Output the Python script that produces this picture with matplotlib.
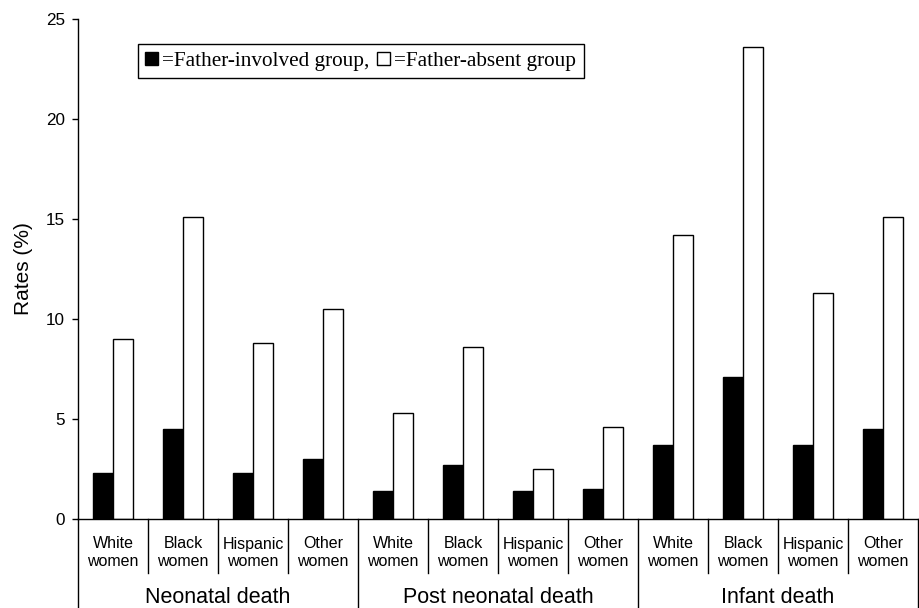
## Father involvement and infant mortality bar chart
import matplotlib
matplotlib.use("Agg")
import matplotlib.pyplot as plt
from matplotlib.patches import Rectangle
import numpy as np

plt.rcParams['font.family'] = ['Liberation Sans', 'DejaVu Sans']

# Data
categories = ["Neonatal death", "Post neonatal death", "Infant death"]
subgroups = ["White\nwomen", "Black\nwomen", "Hispanic\nwomen", "Other\nwomen"]
involved = [2.3, 4.5, 2.3, 3.0,
            1.4, 2.7, 1.4, 1.5,
            3.7, 7.1, 3.7, 4.5]
absent = [9.0, 15.1, 8.8, 10.5,
          5.3, 8.6, 2.5, 4.6,
          14.2, 23.6, 11.3, 15.1]

n = len(involved)
x = np.arange(n)
w = 0.286

fig = plt.figure(figsize=(9.2, 6.08), dpi=100)
ax = fig.add_axes([78/920, 1 - 518.7/608, 840/920, 500/608])

ax.bar(x - w/2, involved, w, color='black', edgecolor='black', linewidth=1.0)
ax.bar(x + w/2, absent, w, color='white', edgecolor='black', linewidth=1.0)

ax.set_xlim(-0.5, n - 0.5)
ax.set_ylim(0, 25)
ax.set_yticks([0, 5, 10, 15, 20, 25])
ax.tick_params(axis='y', direction='out', length=4.5, width=1.0, labelsize=12.3, pad=5)
ax.set_xticks([])
ax.spines['top'].set_visible(False)
ax.spines['right'].set_visible(False)
for s in ['left', 'bottom']:
    ax.spines[s].set_linewidth(1.0)
ax.set_ylabel("Rates (%)", fontsize=15, labelpad=9)

# separators and labels under the axis
trans = ax.get_xaxis_transform()
per = len(subgroups)
for k in range(n + 1):
    xb = k - 0.5
    low = -0.1786 if k % per == 0 else -0.108
    ax.plot([xb, xb], [0, low], color='black', lw=1.0, transform=trans, clip_on=False)
for i in range(n):
    ax.text(i, -0.068, subgroups[i % per], transform=trans, ha='center', va='center',
            fontsize=11.5, linespacing=1.2)
for j, c in enumerate(categories):
    ax.text(j * per + (per - 1) / 2, -0.1686, c, transform=trans, ha='center',
            va='baseline', fontsize=15.5)

# legend
handles = [Rectangle((0, 0), 1, 1, facecolor='black', edgecolor='black', lw=1.0),
           Rectangle((0, 0), 1, 1, facecolor='white', edgecolor='black', lw=1.0)]
leg = ax.legend(handles, ["=Father-involved group,", "=Father-absent group"],
                ncol=2, loc='upper left', bbox_to_anchor=(0.0714, 0.949),
                prop={'family': 'Liberation Serif', 'size': 15.3},
                frameon=True, fancybox=False, edgecolor='black', framealpha=1,
                handlelength=0.6, handleheight=0.6, handletextpad=0.2,
                columnspacing=0.35, borderpad=0.35, borderaxespad=0)
leg.get_frame().set_linewidth(1.0)

fig.savefig("out.png", dpi=100)
